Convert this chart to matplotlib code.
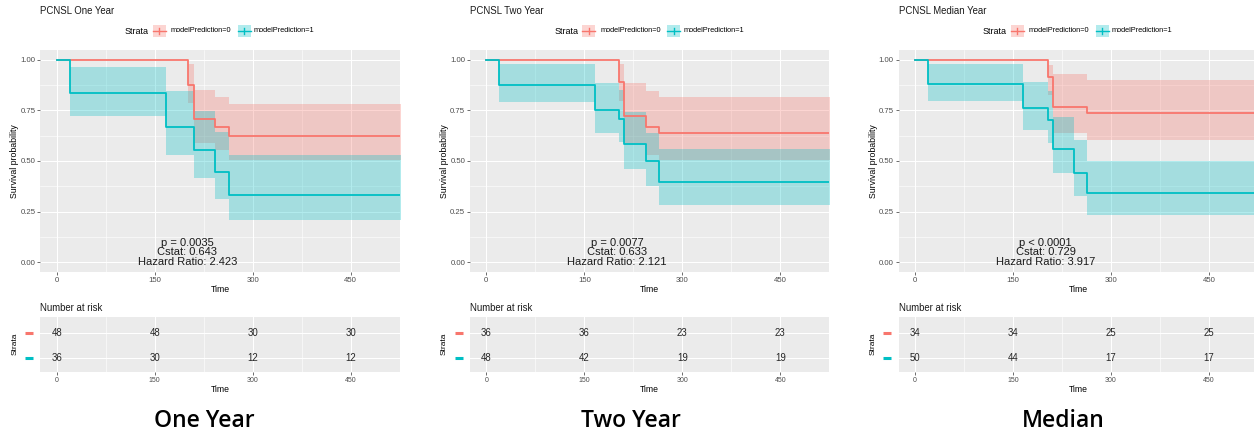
import matplotlib
matplotlib.use("Agg")
import matplotlib.pyplot as plt
from matplotlib.patches import Rectangle
from matplotlib.lines import Line2D
from matplotlib.transforms import blended_transform_factory

plt.rcParams["font.family"] = ["Liberation Sans", "DejaVu Sans"]

RED = "#F8766D"
TEAL = "#00BFC4"
PANEL_BG = "#EBEBEB"

# ---------------- data ----------------
titles = ["PCNSL One Year", "PCNSL Two Year", "PCNSL Median Year"]
captions = ["One Year", "Two Year", "Median"]
strata_labels = ["modelPrediction=0", "modelPrediction=1"]
p_labels = ["p = 0.0035", "p = 0.0077", "p < 0.0001"]
cstats = [0.643, 0.633, 0.729]
hazard_ratios = [2.423, 2.121, 3.917]
risk_times = [0, 150, 300, 450]
time_ticks = [0, 150, 300, 450]
surv_ticks = [0.00, 0.25, 0.50, 0.75, 1.00]
last_followup = 540

one_red_time = [0, 201, 210, 242, 263]
one_red_surv = [1.0, 0.875, 0.708, 0.667, 0.625]
one_red_lower = [1.0, 0.787, 0.589, 0.552, 0.503]
one_red_upper = [1.0, 0.977, 0.850, 0.817, 0.782]
one_teal_time = [0, 20, 167, 210, 242, 263]
one_teal_surv = [1.0, 0.833, 0.667, 0.556, 0.444, 0.333]
one_teal_lower = [1.0, 0.724, 0.531, 0.416, 0.310, 0.210]
one_teal_upper = [1.0, 0.965, 0.843, 0.746, 0.642, 0.530]
one_risk_red = [48, 48, 30, 30]
one_risk_teal = [36, 30, 12, 12]

two_red_time = [0, 203, 211, 244, 264]
two_red_surv = [1.0, 0.889, 0.722, 0.667, 0.639]
two_red_lower = [1.0, 0.795, 0.589, 0.530, 0.503]
two_red_upper = [1.0, 0.980, 0.886, 0.845, 0.817]
two_teal_time = [0, 20, 167, 203, 211, 244, 264]
two_teal_surv = [1.0, 0.875, 0.750, 0.708, 0.583, 0.500, 0.396]
two_teal_lower = [1.0, 0.790, 0.639, 0.592, 0.460, 0.378, 0.280]
two_teal_upper = [1.0, 0.977, 0.886, 0.850, 0.741, 0.640, 0.561]
two_risk_red = [36, 36, 23, 23]
two_risk_teal = [48, 42, 19, 19]

med_red_time = [0, 203, 211, 264]
med_red_surv = [1.0, 0.912, 0.765, 0.735]
med_red_lower = [1.0, 0.825, 0.639, 0.605]
med_red_upper = [1.0, 0.975, 0.927, 0.899]
med_teal_time = [0, 20, 166, 203, 211, 243, 264]
med_teal_surv = [1.0, 0.880, 0.760, 0.700, 0.560, 0.440, 0.340]
med_teal_lower = [1.0, 0.795, 0.652, 0.589, 0.440, 0.325, 0.231]
med_teal_upper = [1.0, 0.977, 0.889, 0.845, 0.716, 0.605, 0.498]
med_risk_red = [34, 34, 25, 25]
med_risk_teal = [50, 44, 17, 17]

panels = [
    dict(red=(one_red_time, one_red_surv, one_red_lower, one_red_upper),
         teal=(one_teal_time, one_teal_surv, one_teal_lower, one_teal_upper),
         risk=(one_risk_red, one_risk_teal)),
    dict(red=(two_red_time, two_red_surv, two_red_lower, two_red_upper),
         teal=(two_teal_time, two_teal_surv, two_teal_lower, two_teal_upper),
         risk=(two_risk_red, two_risk_teal)),
    dict(red=(med_red_time, med_red_surv, med_red_lower, med_red_upper),
         teal=(med_teal_time, med_teal_surv, med_teal_lower, med_teal_upper),
         risk=(med_risk_red, med_risk_teal)),
]

# ---------------- layout (pixels) ----------------
W, H, DPI = 1254, 437, 100
fig = plt.figure(figsize=(W / DPI, H / DPI), dpi=DPI)
fig.patch.set_facecolor("white")

PANEL_X0 = [40.4, 470.0, 898.7]
PANEL_W = 359.3
MAIN_Y = (49.5, 272.3)
TABLE_Y = (316.7, 371.7)
CAPTION_X = [204.5, 631.0, 1063.0]
YLABEL_X = (15 - 40.4) / PANEL_W      # axis-fraction offset of the y titles
DASH_X = ((25 - 40.4) / PANEL_W, (33 - 40.4) / PANEL_W)


def px_rect(x0, y0, x1, y1):
    return [x0 / W, 1 - y1 / H, (x1 - x0) / W, (y1 - y0) / H]


def fig_text(x, y, s, **kw):
    return fig.text(x / W, 1 - y / H, s, **kw)


def gg_style(ax, yticks, yminor, labelsize):
    ax.set_facecolor(PANEL_BG)
    for sp in ax.spines.values():
        sp.set_visible(False)
    ax.set_xticks(time_ticks)
    ax.set_xticks([75, 225, 375, 525], minor=True)
    ax.set_yticks(yticks)
    ax.set_yticks(yminor, minor=True)
    ax.grid(which="major", color="white", lw=0.75)
    ax.grid(which="minor", color="white", lw=0.4)
    ax.set_axisbelow(True)
    ax.tick_params(which="major", length=2, width=0.5, color="#333333",
                   labelcolor="#4D4D4D", labelsize=labelsize, pad=1.5)
    ax.tick_params(which="minor", length=0)


def draw_band(ax, data, color):
    t, s, lo, hi = data
    x = list(t) + [last_followup]
    ax.fill_between(x, list(lo) + [lo[-1]], list(hi) + [hi[-1]], step="post",
                    color=color, alpha=0.3, lw=0)


def draw_curve(ax, data, color):
    t, s, lo, hi = data
    x = list(t) + [last_followup]
    ax.step(x, list(s) + [s[-1]], where="post", color=color, lw=1.3)


def legend_key(x0, yc, color):
    fig.add_artist(Rectangle((x0 / W, 1 - (yc + 5.5) / H), 13 / W, 11 / H,
                             transform=fig.transFigure, facecolor=color,
                             alpha=0.3, lw=0))
    fig.add_artist(Line2D([x0 / W, (x0 + 13) / W], [1 - yc / H] * 2,
                          transform=fig.transFigure, color=color, lw=1.0))
    fig.add_artist(Line2D([(x0 + 6.5) / W] * 2, [1 - (yc - 3) / H, 1 - (yc + 3) / H],
                          transform=fig.transFigure, color=color, lw=1.0))


for i, pdata in enumerate(panels):
    x0 = PANEL_X0[i]
    cx = x0 + PANEL_W / 2

    # survival curves with confidence bands
    ax = fig.add_axes(px_rect(x0, MAIN_Y[0], x0 + PANEL_W, MAIN_Y[1]))
    gg_style(ax, surv_ticks, [0.125, 0.375, 0.625, 0.875], 5.6)
    ax.set_yticklabels([f"{v:.2f}" for v in surv_ticks])
    ax.set_xlim(-25, 525)
    ax.set_ylim(-0.05, 1.05)
    draw_band(ax, pdata["red"], RED)
    draw_band(ax, pdata["teal"], TEAL)
    draw_curve(ax, pdata["red"], RED)
    draw_curve(ax, pdata["teal"], TEAL)

    ax.text(200, 0.097, p_labels[i], ha="center", va="center", fontsize=8, color="#1A1A1A")
    ax.text(200, 0.0495, f"Cstat: {cstats[i]:.3f}", ha="center", va="center",
            fontsize=8, color="#1A1A1A")
    ax.text(200, 0.0, f"Hazard Ratio: {hazard_ratios[i]:.3f}", ha="center",
            va="center", fontsize=8, color="#1A1A1A")

    ax.text(0.5, -(290 - MAIN_Y[1]) / (MAIN_Y[1] - MAIN_Y[0]), "Time",
            transform=ax.transAxes, ha="center", va="center", fontsize=6.3)
    ax.text(YLABEL_X, 0.5, "Survival probability", transform=ax.transAxes,
            rotation=90, ha="center", va="center", fontsize=6.3)

    # title and legend
    fig_text(x0, 10.7, titles[i], ha="left", va="center", fontsize=6.9, color="#1A1A1A")
    fig_text(cx - 95.5, 31, "Strata", ha="left", va="center", fontsize=6.5)
    legend_key(cx - 67.5, 31, RED)
    fig_text(cx - 49.5, 31, strata_labels[0], ha="left", va="center", fontsize=5.3)
    legend_key(cx + 17.5, 31, TEAL)
    fig_text(cx + 33.5, 31, strata_labels[1], ha="left", va="center", fontsize=5.3)

    # number-at-risk table
    tab = fig.add_axes(px_rect(x0, TABLE_Y[0], x0 + PANEL_W, TABLE_Y[1]))
    gg_style(tab, [1, 2], [], 5.0)
    tab.set_yticklabels(["", ""])
    tab.tick_params(axis="y", length=0)
    tab.set_xlim(-25, 525)
    tab.set_ylim(0.46, 2.66)
    risk_red, risk_teal = pdata["risk"]
    for t, n in zip(risk_times, risk_red):
        tab.text(t, 2, str(n), ha="center", va="center", fontsize=6.9, color="#262626")
    for t, n in zip(risk_times, risk_teal):
        tab.text(t, 1, str(n), ha="center", va="center", fontsize=6.9, color="#262626")
    blend = blended_transform_factory(tab.transAxes, tab.transData)
    for yrow, col in ((2, RED), (1, TEAL)):
        tab.add_line(Line2D(list(DASH_X), [yrow, yrow], transform=blend, color=col,
                            lw=2.2, solid_capstyle="butt", clip_on=False))
    tab.text(YLABEL_X, 0.5, "Strata", transform=tab.transAxes,
             rotation=90, ha="center", va="center", fontsize=6.0)
    tab.text(0.5, -(389.3 - TABLE_Y[1]) / (TABLE_Y[1] - TABLE_Y[0]), "Time",
             transform=tab.transAxes, ha="center", va="center", fontsize=6.2)
    fig_text(x0, 308.3, "Number at risk", ha="left", va="center", fontsize=6.9,
             color="#1A1A1A")

    # caption under each panel
    fig_text(CAPTION_X[i], 420.7, captions[i], ha="center", va="center",
             fontsize=16.5, weight="semibold", family=["Open Sans", "DejaVu Sans"],
             color="black")

fig.savefig("out.png", dpi=DPI, facecolor="white")
